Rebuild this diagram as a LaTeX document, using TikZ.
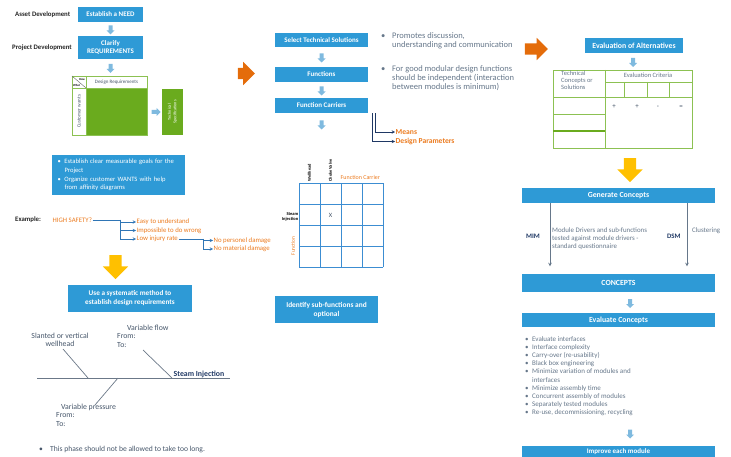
\documentclass[tikz,border=0pt]{standalone}
\usepackage{fontspec}
\setmainfont{Carlito}
\usetikzlibrary{shapes.arrows,positioning}

\definecolor{boxblue}{HTML}{2E9AD6}
\definecolor{paleblue}{HTML}{7FBADF}
\definecolor{leafgreen}{HTML}{6AAB1E}
\definecolor{linegreen}{HTML}{8CC152}
\definecolor{tangerine}{HTML}{E46C0A}
\definecolor{textorange}{HTML}{EB7A1E}
\definecolor{amber}{HTML}{FFC000}
\definecolor{slate}{HTML}{66778A}
\definecolor{ink}{HTML}{46566A}
\definecolor{linkblue}{HTML}{2F75B5}
\definecolor{navy}{HTML}{1F3864}
\definecolor{gridblue}{HTML}{3C8DD2}

\newcommand{\bul}{\makebox[7pt][l]{\textbullet}}
\newcommand{\ind}{\hspace*{7pt}}

\begin{document}
\begin{tikzpicture}[
    x=1pt, y=-1pt,
    stepbox/.style={fill=boxblue, text=white, align=center, inner sep=1pt, minimum width=65pt, minimum height=15pt, font=\fontsize{7}{8}\selectfont\bfseries},
    widebox/.style={stepbox, minimum width=193pt, font=\fontsize{7.8}{8}\selectfont\bfseries},
    smallarrow/.style={single arrow, fill=paleblue, inner sep=1.8pt, single arrow head extend=2pt, minimum height=9pt, shape border rotate=270},
    bigarrow/.style={single arrow, inner sep=6pt, single arrow head extend=6.5pt, minimum height=24pt},
    heading/.style={anchor=west, inner sep=0pt, text=black!85, font=\fontsize{6.8}{7}\selectfont\bfseries},
    note/.style={anchor=north west, align=left, inner sep=0pt, text=slate, font=\fontsize{6.8}{8.2}\selectfont},
    orangetext/.style={anchor=west, inner sep=0.5pt, text=textorange, font=\fontsize{6.8}{7}\selectfont},
    branch/.style={->, >=stealth, linkblue, line width=0.5pt},
    bone/.style={ink!80, line width=0.7pt},
    gridline/.style={gridblue, line width=0.7pt},
    tableline/.style={linegreen, line width=0.7pt}
]
    \useasboundingbox (0,0) rectangle (731,457);

    % Left column
    \node[heading] (asset) at (15,15) {Asset Development};
    \node[stepbox] (need) at (110.5,14.5) {Establish a NEED};
    \node[smallarrow] (a1) at (110.5,29) {};
    \node[heading] (project) at (12,47.5) {Project Development};
    \node[stepbox, minimum height=23pt, font=\fontsize{7}{8.5}\selectfont\bfseries] (clarify) at (110.5,47.5) {Clarify\\REQUIREMENTS};
    \node[smallarrow] (a2) at (110.5,67.5) {};

    % House of quality
    \draw[linegreen, fill=white, line width=0.8pt] (72,76) rectangle (147,135);
    \fill[leafgreen] (86,88) rectangle (147,135);
    \draw[linegreen, line width=0.6pt] (72,88) -- (147,88) (86,76) -- (86,135);
    \draw[black!60, line width=0.4pt] (72,76) -- (86,88);
    \node[inner sep=0pt, font=\fontsize{3}{3}\selectfont\bfseries] (how) at (82,79.5) {How};
    \node[inner sep=0pt, font=\fontsize{3}{3}\selectfont\bfseries] (what) at (76.5,85.5) {What};
    \node[inner sep=0pt, text=ink, font=\fontsize{5}{5}\selectfont] (dreq) at (116.5,82) {Design Requirements};
    \node[inner sep=0pt, text=ink, rotate=90, font=\fontsize{5}{5}\selectfont] (wants) at (79,111.5) {Customer wants};
    \node[single arrow, fill=paleblue, inner sep=1.8pt, single arrow head extend=2pt, minimum height=9pt] (a3) at (155,112) {};
    \node[fill=leafgreen, text=white, rotate=90, minimum width=46pt, minimum height=21pt, align=center, inner sep=0pt, font=\fontsize{4.3}{5.5}\selectfont] (spec) at (172.5,112) {Technical\\Specifications};

    \node[fill=boxblue, text=white, minimum width=133pt, minimum height=40pt, text width=122pt, align=left, inner sep=0pt, font=\fontsize{6.6}{8.6}\selectfont] (goals) at (118.5,175) {\bul Establish clear measurable goals for the\\\ind Project\\\bul Organize customer WANTS with help\\\ind from affinity diagrams};

    % Example tree
    \node[heading] (example) at (15,220) {Example:};
    \node[orangetext] (safety) at (52,220) {HIGH SAFETY?};
    \node[orangetext] (easy) at (136,222) {Easy to understand};
    \node[orangetext] (wrong) at (136,230.5) {Impossible to do wrong};
    \node[orangetext] (injury) at (136,239) {Low injury rate};
    \node[orangetext] (personel) at (213,240.5) {No personel damage};
    \node[orangetext] (material) at (213,249) {No material damage};
    \coordinate (split) at (120,220);
    \coordinate (split2) at (203,239);
    \draw[linkblue, line width=0.5pt] (safety.east) -- (split);
    \draw[branch] (split) |- (easy.west);
    \draw[branch] (split) |- (wrong.west);
    \draw[branch] (split) |- (injury.west);
    \draw[linkblue, line width=0.5pt] (injury.east) -- (split2);
    \draw[branch] (split2) |- (personel.west);
    \draw[branch] (split2) |- (material.west);

    \node[bigarrow, fill=amber, shape border rotate=270] (down1) at (115.5,264) {};
    \node[stepbox, minimum width=124pt, minimum height=27pt, font=\fontsize{7.2}{9}\selectfont\bfseries] (method) at (130,298.5) {Use a systematic method to\\establish design requirements};

    % Fishbone
    \coordinate (tail) at (37,378);
    \coordinate (head) at (230,378);
    \draw[bone] (tail) -- (head);
    \node[anchor=south west, inner sep=0.5pt, text=navy, font=\fontsize{7.8}{8}\selectfont\bfseries] (steam) at (173,378.8) {Steam Injection};
    \draw[bone] (63,349) -- (88,378);
    \draw[bone] (143,350) -- (172,378);
    \draw[bone] (118,378) -- (95,405);
    \node[align=center, inner sep=0pt, text=ink, font=\fontsize{7.8}{8.2}\selectfont] (slanted) at (60,340) {Slanted or vertical\\wellhead};
    \node[note, text=ink, font=\fontsize{7.8}{8.3}\selectfont] (flow) at (117,325) {\hspace*{10pt}Variable flow\\From:\\To:};
    \node[note, text=ink, font=\fontsize{7.8}{8.3}\selectfont] (pressure) at (56,404) {\hspace*{5pt}Variable pressure\\From:\\To:};
    \node[note, anchor=west, text=ink, font=\fontsize{7.6}{8}\selectfont] (phase) at (39,450) {\makebox[11pt][l]{\textbullet}This phase should not be allowed to take too long.};

    % Middle column
    \node[bigarrow, fill=tangerine, inner sep=5.5pt, single arrow head extend=6pt, minimum height=17pt] (go1) at (243.5,73.5) {};
    \node[stepbox, minimum width=93pt, minimum height=14pt] (select) at (321.5,40) {Select Technical Solutions};
    \node[smallarrow] (a4) at (321.5,57) {};
    \node[stepbox, minimum width=93pt] (functions) at (321.5,74.5) {Functions};
    \node[smallarrow] (a5) at (321.5,90) {};
    \node[stepbox, minimum width=93pt] (carriers) at (321.5,105.5) {Function Carriers};
    \node[smallarrow] (a6) at (321.5,124) {};
    \node[orangetext, font=\fontsize{7.6}{8}\selectfont\bfseries] (means) at (395,132) {Means};
    \node[orangetext, font=\fontsize{7.6}{8}\selectfont\bfseries] (params) at (395,141.5) {Design Parameters};
    \draw[->, >=stealth, navy, line width=0.5pt] (carriers.south east) ++(7,0) |- (means.west);
    \draw[->, >=stealth, navy, line width=0.5pt] (carriers.south east) ++(4,0) |- (params.west);
    \node[note, font=\fontsize{8.5}{9}\selectfont] (promotes) at (381,32.5) {\makebox[11pt][l]{\textbullet}Promotes discussion,\\\hspace*{11pt}understanding and communication};
    \node[note, font=\fontsize{8.5}{9}\selectfont] (modular) at (381,65) {\makebox[11pt][l]{\textbullet}For good modular design functions\\\hspace*{11pt}should be independent (interaction\\\hspace*{11pt}between modules is minimum)};

    % Function / carrier matrix
    \draw[gridline, shift={(299,183)}] (0,0) grid[step=21pt] (84,84);
    \node[rotate=90, anchor=west, inner sep=0.5pt, font=\fontsize{4.3}{5}\selectfont\bfseries] (wellheadcol) at (309.5,182) {Wellhead};
    \node[rotate=90, anchor=west, inner sep=0.5pt, font=\fontsize{4.3}{5}\selectfont\bfseries] (chokecol) at (330.5,182) {Choke Valve};
    \node[orangetext, font=\fontsize{6}{6}\selectfont] (carrierlbl) at (340,177) {Function Carrier};
    \node[anchor=east, align=right, inner sep=0.5pt, font=\fontsize{4.5}{5.5}\selectfont\bfseries] (steamrow) at (299,217) {Steam\\Injection};
    \node[text=ink, font=\fontsize{6.5}{7}\selectfont] (cross) at (330.5,215.5) {X};
    \node[rotate=90, inner sep=0pt, text=textorange, font=\fontsize{5.3}{6}\selectfont] (functionlbl) at (293,246) {Function};
    \node[stepbox, minimum width=103pt, minimum height=27pt, font=\fontsize{7.4}{9}\selectfont\bfseries] (subfn) at (326.5,309.5) {Identify sub-functions and\\optional};

    % Right column
    \node[bigarrow, fill=tangerine, inner sep=5.5pt, single arrow head extend=5.5pt, minimum height=23pt] (go2) at (533.5,49) {};
    \node[stepbox, minimum width=98pt, font=\fontsize{7.8}{8}\selectfont\bfseries] (alternatives) at (634,45.5) {Evaluation of Alternatives};
    \node[smallarrow] (a7) at (633,61.5) {};
    \draw[tableline] (553,70) rectangle (692,148);
    \draw[tableline] (605,70) -- (605,148) (553,97) -- (692,97) (605,82) -- (692,82);
    \foreach \x in {624,647,669} \draw[tableline] (\x,82) -- (\x,97);
    \draw[tableline] (553,114) -- (605,114);
    \draw[leafgreen, line width=1.1pt] (553,131) -- (605,131);
    \node[note, font=\fontsize{6.5}{7}\selectfont] (concepthead) at (561,71) {Technical\\Concepts or\\Solutions};
    \node[inner sep=0pt, text=slate, font=\fontsize{6.5}{7}\selectfont] (criteria) at (648,75.5) {Evaluation Criteria};
    \node[inner sep=0pt, text=ink, font=\fontsize{7}{7}\selectfont] (plus1) at (614,107) {+};
    \node[inner sep=0pt, text=ink, font=\fontsize{7}{7}\selectfont] (plus2) at (637,107) {+};
    \node[inner sep=0pt, text=ink, font=\fontsize{7}{7}\selectfont] (minus) at (658,107) {-};
    \node[inner sep=0pt, text=ink, font=\fontsize{7}{7}\selectfont] (equal) at (681,107) {=};
    \node[bigarrow, fill=amber, shape border rotate=270] (down2) at (630,167) {};
    \node[widebox] (generate) at (618.5,195.5) {Generate Concepts};
    \node[widebox, minimum height=18pt] (concepts) at (618.5,282.5) {CONCEPTS};
    \draw[->, >=stealth, slate, line width=0.6pt, shorten >=7pt] ([xshift=-68.5pt]generate.south) -- ([xshift=-68.5pt]concepts.north);
    \draw[->, >=stealth, slate, line width=0.6pt, shorten >=7pt] ([xshift=68.5pt]generate.south) -- ([xshift=68.5pt]concepts.north);
    \node[heading, text=navy] (mim) at (526,236) {MIM};
    \node[heading, text=navy] (dsm) at (667,236) {DSM};
    \node[note, font=\fontsize{6.9}{8}\selectfont] (drivers) at (552,228) {Module Drivers and sub-functions\\tested against module drivers -\\standard questionnaire};
    \node[note, font=\fontsize{6.9}{8}\selectfont] (clustering) at (692,228) {Clustering};
    \node[smallarrow] (a8) at (630,302.5) {};
    \node[widebox, minimum height=14pt] (evaluate) at (618.5,320) {Evaluate Concepts};
    \node[note, font=\fontsize{7}{8.2}\selectfont] (checks) at (525,336) {\bul Evaluate interfaces\\\bul Interface complexity\\\bul Carry-over (re-usability)\\\bul Black box engineering\\\bul Minimize variation of modules and\\\ind interfaces\\\bul Minimize assembly time\\\bul Concurrent assembly of modules\\\bul Separately tested modules\\\bul Re-use, decommissioning, recycling};
    \node[smallarrow] (a9) at (630,433) {};
    \node[widebox, minimum height=11pt, inner sep=0.5pt, font=\fontsize{7}{7}\selectfont\bfseries] (improve) at (618.5,451.5) {Improve each module};
\end{tikzpicture}
\end{document}
